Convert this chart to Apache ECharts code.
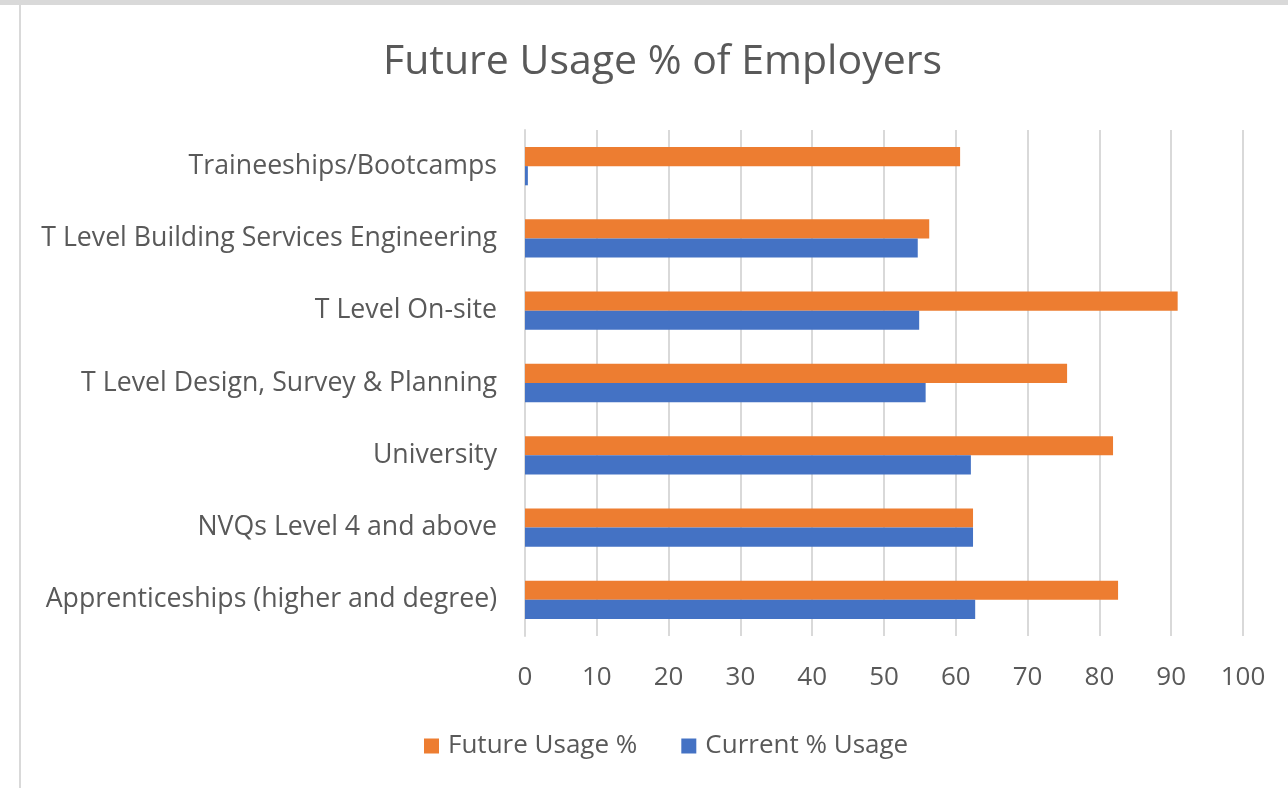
<!DOCTYPE html>
<html>
<head>
<meta charset="utf-8">
<script src="https://cdn.jsdelivr.net/npm/echarts@6/dist/echarts.min.js"></script>
<style>
  html, body { margin: 0; padding: 0; background: #fff; }
  #chart { width: 1288px; height: 788px; }
</style>
</head>
<body>
<div id="chart"></div>
<script>
// Qualification routes, listed bottom to top as drawn on the category axis
const categories = [
  'Apprenticeships (higher and degree)',
  'NVQs Level 4 and above',
  'University',
  'T Level Design, Survey & Planning',
  'T Level On-site',
  'T Level Building Services Engineering',
  'Traineeships/Bootcamps'
];
const futureUsage = [82.6, 62.4, 81.9, 75.5, 90.9, 56.3, 60.6];
const currentUsage = [62.7, 62.4, 62.1, 55.8, 54.9, 54.7, 0.4];
const seriesNames = ['Future Usage %', 'Current % Usage'];

const FONT = 'Open Sans';
const TEXT = '#595959';

const chart = echarts.init(document.getElementById('chart'), null, { renderer: 'canvas' });
chart.setOption({
  backgroundColor: '#fff',
  animation: false,
  title: {
    text: 'Future Usage % of Employers',
    left: 383,
    top: 42,
    padding: 0,
    textStyle: { fontFamily: FONT, fontSize: 41, fontWeight: 'normal', color: TEXT }
  },
  legend: {
    data: seriesNames,
    top: 728,
    left: 419,
    itemWidth: 15,
    itemHeight: 15,
    itemGap: 44,
    icon: 'rect',
    textStyle: { fontFamily: FONT, fontSize: 26, color: TEXT, padding: [0, 0, 0, 4] }
  },
  grid: { left: 525, right: 45, top: 130, bottom: 152 },
  xAxis: {
    type: 'value',
    min: 0,
    max: 100,
    interval: 10,
    axisLine: { show: false },
    axisTick: { show: false },
    splitLine: { lineStyle: { color: '#d9d9d9', width: 2 } },
    axisLabel: { fontFamily: FONT, fontSize: 26, color: TEXT, margin: 29 }
  },
  yAxis: {
    type: 'category',
    data: categories,
    axisLine: { show: true, lineStyle: { color: '#d9d9d9', width: 2 } },
    axisTick: { show: false },
    axisLabel: { fontFamily: FONT, fontSize: 26.7, color: TEXT, margin: 28 }
  },
  series: [
    {
      name: seriesNames[0],
      type: 'bar',
      data: futureUsage,
      barGap: '0%',
      barCategoryGap: '47%',
      itemStyle: { color: '#ED7D31' }
    },
    {
      name: seriesNames[1],
      type: 'bar',
      data: currentUsage,
      barGap: '0%',
      barCategoryGap: '47%',
      itemStyle: { color: '#4472C4' }
    }
  ],
  graphic: [
    { type: 'rect', shape: { x: 0, y: 0, width: 1288, height: 5 }, style: { fill: '#d9d9d9' }, silent: true },
    { type: 'rect', shape: { x: 19, y: 5, width: 2, height: 783 }, style: { fill: '#d9d9d9' }, silent: true }
  ]
});
</script>
</body>
</html>
